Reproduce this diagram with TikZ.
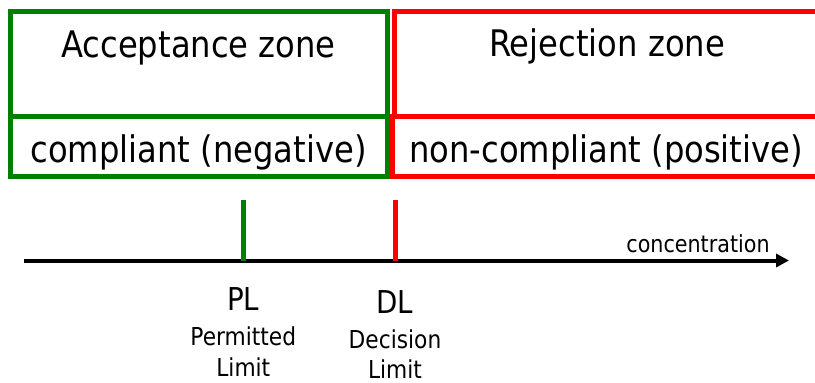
\documentclass[tikz,border=0pt]{standalone}
\usepackage{fontspec}
\setmainfont{DejaVu Sans}[FakeStretch=0.88]
\usetikzlibrary{arrows.meta}
\definecolor{zonegreen}{RGB}{0,128,0}
\definecolor{zonered}{RGB}{255,0,0}
\tikzset{
  zonebox/.style={line width=5pt},
  bigtext/.style={inner sep=0pt, anchor=base, font=\fontsize{36.6}{40}\selectfont},
  limtext/.style={inner sep=0pt, anchor=base, font=\fontsize{31.5}{34}\selectfont},
  subtext/.style={inner sep=0pt, anchor=base, font=\fontsize{24.7}{28}\selectfont},
  axtext/.style={inner sep=0pt, anchor=base, font=\fontsize{23.5}{26}\selectfont},
  tick/.style={line width=5pt},
  axisline/.style={line width=4pt, -{Triangle[length=13pt,width=13pt]}}
}
\begin{document}
\begin{tikzpicture}[x=1pt,y=-1pt]
\useasboundingbox (0,0) rectangle (815,383);

% zones
\draw[zonebox, zonegreen] (10,11) rectangle (387,116);
\draw[zonebox, zonegreen] (10,116) rectangle (387,176);
\draw[zonebox, zonered] (394.5,11) rectangle (822,116);
\draw[zonebox, zonered] (392,116) rectangle (822,176);

\node[bigtext] (acc) at (198.5,57) {Acceptance zone};
\node[bigtext] (rej) at (607,56) {Rejection zone};
\node[bigtext] (comp) at (198.5,162) {compliant (negative)};
\node[bigtext] (ncomp) at (606,162) {non-compliant (positive)};

% concentration axis
\coordinate (axs) at (24,260.5);
\coordinate (axe) at (789,260.5);
\draw[axisline] (axs) -- (axe);
\node[axtext] (conc) at (698,252) {concentration};

% limits
\coordinate (pltop) at (243.3,200);
\coordinate (plbot) at (243.3,260.5);
\coordinate (dltop) at (395,200);
\coordinate (dlbot) at (395,260.5);
\draw[tick, zonegreen] (pltop) -- (plbot);
\draw[tick, zonered] (dltop) -- (dlbot);

\node[limtext] (pl) at (243.3,310) {PL};
\node[subtext] (plname1) at (243.3,345) {Permitted};
\node[subtext] (plname2) at (243.3,376) {Limit};
\node[limtext] (dl) at (395,313) {DL};
\node[subtext] (dlname1) at (395,348) {Decision};
\node[subtext] (dlname2) at (395,378.5) {Limit};
\end{tikzpicture}
\end{document}
